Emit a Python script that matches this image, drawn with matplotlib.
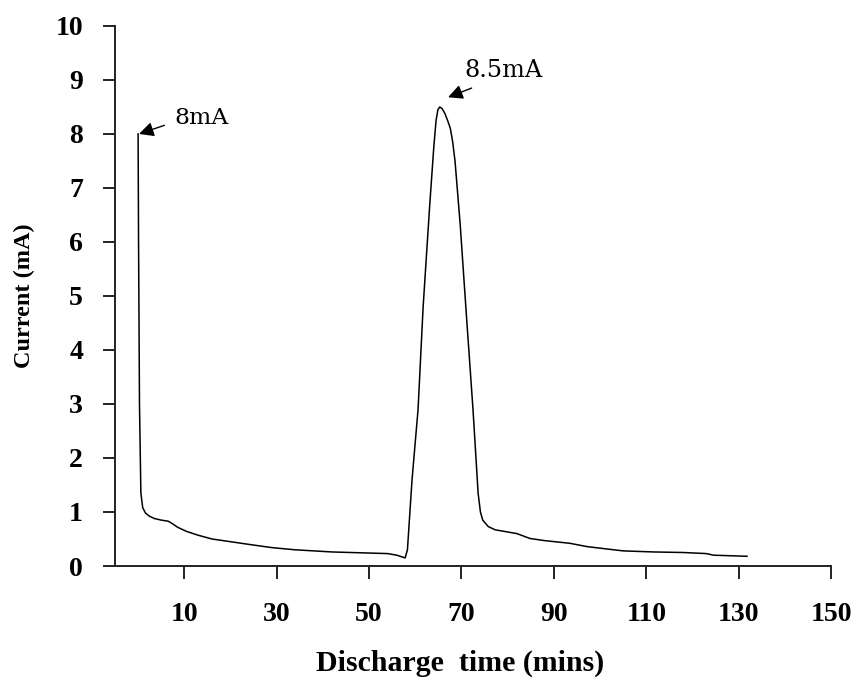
import numpy as np
import matplotlib.pyplot as plt

# discharge current trace (mins, mA)
time_min = [0.0, 0.1, 0.3, 0.6, 1.0, 1.6, 2.5, 3.5, 5.0, 6.5, 7.5, 8.5, 10.5,
            13.0, 16.0, 20.0, 24.0, 29.0, 34.0, 42.0, 50.0, 54.0, 56.0, 57.8,
            58.3, 59.3, 60.6, 61.7, 63.1, 64.0, 64.5, 64.9, 65.3, 65.8, 66.4,
            67.0, 67.6, 68.1, 68.6, 69.7, 71.1, 72.5, 73.6, 74.1, 74.6, 75.8,
            77.3, 82.0, 84.8, 88.0, 93.5, 97.1, 101.0, 105.0, 111.6, 118.0,
            123.0, 124.6, 131.8]
current_mA = [8.0, 6.0, 3.0, 1.35, 1.08, 0.98, 0.92, 0.88, 0.85, 0.83, 0.78,
              0.72, 0.64, 0.57, 0.50, 0.45, 0.40, 0.34, 0.30, 0.26, 0.24, 0.23,
              0.20, 0.15, 0.3, 1.6, 2.9, 4.8, 6.65, 7.75, 8.25, 8.45, 8.5,
              8.47, 8.38, 8.25, 8.1, 7.85, 7.5, 6.35, 4.6, 2.89, 1.35, 1.0,
              0.85, 0.73, 0.67, 0.60, 0.51, 0.47, 0.42, 0.36, 0.32, 0.28, 0.26,
              0.25, 0.23, 0.20, 0.18]

x_ticks = [10, 30, 50, 70, 90, 110, 130, 150]
y_ticks = list(range(0, 11))

fig = plt.figure(figsize=(8.55, 6.83), dpi=100)
ax = fig.add_axes([0.1345, 0.1713, 0.8375, 0.7907])

ax.plot(time_min, current_mA, color='black', lw=1.1)

ax.set_xlim(-5, 150)
ax.set_ylim(0, 10)
ax.set_xticks(x_ticks)
ax.set_yticks(y_ticks)

for s in ['top', 'right']:
    ax.spines[s].set_visible(False)
for s in ['left', 'bottom']:
    ax.spines[s].set_linewidth(1.4)
    ax.spines[s].set_color('#222222')

ax.tick_params(axis='both', direction='out', length=9, width=1.4, color='#222222')
ax.tick_params(axis='x', pad=17)
ax.tick_params(axis='y', pad=14)
for lab in ax.get_xticklabels() + ax.get_yticklabels():
    lab.set_fontfamily('Liberation Serif')
    lab.set_fontweight('bold')
    lab.set_fontsize(20)

ax.set_xlabel('Discharge  time (mins)', fontfamily='Liberation Serif',
              fontweight='bold', fontsize=21.5)
ax.xaxis.set_label_coords(0.482, -0.155)
ax.set_ylabel('Current (mA)', fontfamily='Liberation Serif',
              fontweight='bold', fontsize=17.5)
ax.yaxis.set_label_coords(-0.112, 0.5)

# peak markers
arrow = dict(arrowstyle='-|>', color='black', lw=1.0, mutation_scale=22,
             shrinkA=0, shrinkB=0)
ax.annotate('', xy=(0.2, 8.0), xytext=(5.7, 8.16), arrowprops=arrow)
ax.text(7.8, 8.29, '8mA', fontfamily='DejaVu Serif', fontsize=16.8, va='center')
ax.annotate('', xy=(67.1, 8.68), xytext=(72.2, 8.85), arrowprops=arrow)
ax.text(70.7, 9.17, '8.5mA', fontfamily='DejaVu Serif', fontsize=17.3, va='center')

fig.savefig('out.png', dpi=100)
